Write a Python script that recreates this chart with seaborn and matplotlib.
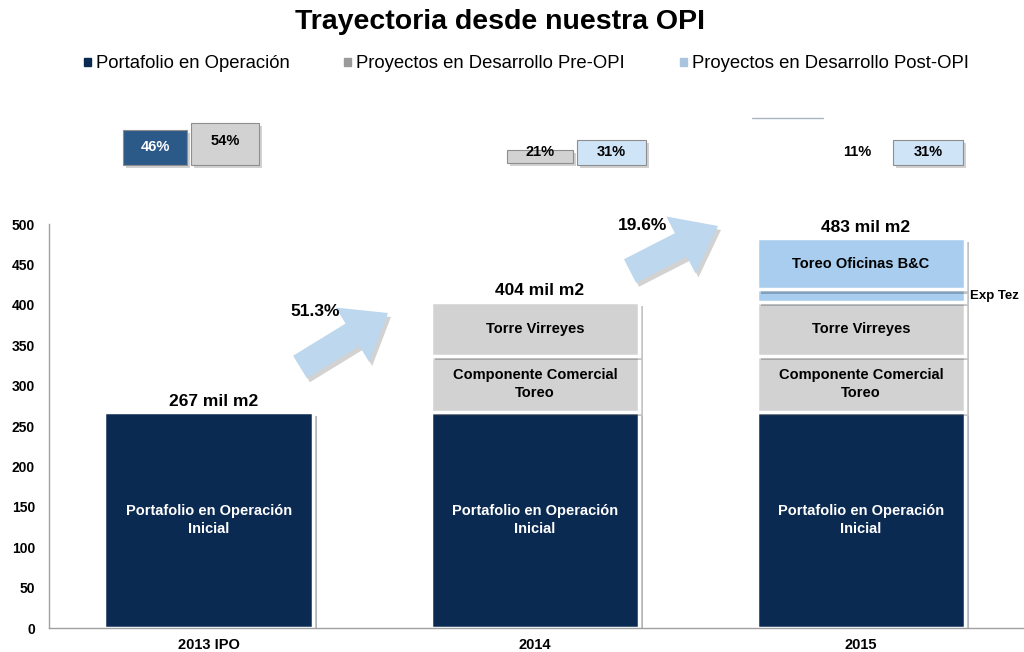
import matplotlib
matplotlib.use("Agg")
import matplotlib.pyplot as plt
import matplotlib.patheffects as pe
import seaborn as sns
import pandas as pd
from matplotlib.patches import Rectangle

# ---------------- data ----------------
years = ["2013 IPO", "2014", "2015"]
portafolio = [267, 267, 267]
componente_comercial = [0, 70, 70]
torre_virreyes = [0, 67, 67]
exp_tez = [0, 0, 15]
toreo_oficinas = [0, 0, 64]
totals = [267, 404, 483]
growth = ["51.3%", "19.6%"]
yticks = list(range(0, 501, 50))
legend_labels = ["Portafolio en Operación", "Proyectos en Desarrollo Pre-OPI",
                 "Proyectos en Desarrollo Post-OPI"]
mix_labels = [["46%", "54%"], ["21%", "31%"], ["11%", "31%"]]

# ---------------- style ----------------
sns.set_theme(style="white")
plt.rcParams["font.family"] = ["Liberation Sans", "DejaVu Sans"]

NAVY = "#0B2A52"
GRAY = "#D2D2D2"
LBLUE = "#A8CDEE"
ARROW = "#BCD7EE"
MIDBLUE = "#2C5A88"
PALEBLUE = "#CFE4F7"

fig = plt.figure(figsize=(10.24, 6.52), dpi=100)
ax = fig.add_axes([49 / 1024, 1 - 628 / 652, (1024 - 49) / 1024, (628 - 224) / 652])

layers = [
    (portafolio, NAVY, "Portafolio en Operación\nInicial", "white"),
    (componente_comercial, GRAY, "Componente Comercial\nToreo", "black"),
    (torre_virreyes, GRAY, "Torre Virreyes", "black"),
    (exp_tez, LBLUE, None, "black"),
    (toreo_oficinas, LBLUE, "Toreo Oficinas B&C", "black"),
]
bottom = [0, 0, 0]
for vals, col, lab, tc in layers:
    df = pd.DataFrame({"year": years, "v": vals})
    sns.barplot(data=df, x="year", y="v", bottom=bottom, color=col, width=0.64,
                saturation=1, edgecolor="white", linewidth=2.5, errorbar=None, ax=ax)
    for i, (b, v) in enumerate(zip(bottom, vals)):
        if v > 0 and lab:
            ax.text(i, b + v / 2, lab, ha="center", va="center", color=tc,
                    fontsize=10.5, fontweight="bold", linespacing=1.3)
    bottom = [b + v for b, v in zip(bottom, vals)]

for p in ax.patches:
    if p.get_height() <= 0:
        p.set_visible(False)
    else:
        p.set_path_effects([pe.SimplePatchShadow(offset=(3, -3), alpha=0.3), pe.Normal()])

for i, t in enumerate(totals):
    ax.text(i + 0.015, t + 4, f"{t} mil m2", ha="center", va="bottom", fontsize=12.5,
            fontweight="bold", color="black")

ax.text(2.333, 404 + 7.5, "Exp Tez", ha="left", va="center", fontsize=9.5,
        fontweight="bold", color="black")

ax.set_ylim(0, 500)
ax.set_xlim(-0.49, 2.5)
ax.set_yticks(yticks)
ax.set_yticklabels([str(t) for t in yticks], fontweight="bold", fontsize=10)
ax.set_xticks(range(len(years)))
ax.set_xticklabels(years, fontweight="bold", fontsize=10.5)
ax.set_xlabel("")
ax.set_ylabel("")
ax.tick_params(axis="y", length=0, pad=10, colors="black")
ax.tick_params(axis="x", length=0, pad=7, colors="black")
for s in ["top", "right"]:
    ax.spines[s].set_visible(False)
for s in ["left", "bottom"]:
    ax.spines[s].set_color("#A0A0A0")
    ax.spines[s].set_linewidth(1)

# ---------------- overlay (pixel coords) ----------------
ov = fig.add_axes([0, 0, 1, 1])
ov.set_xlim(0, 1024)
ov.set_ylim(652, 0)
ov.axis("off")
ov.patch.set_alpha(0)

ov.text(500, 22, "Trayectoria desde nuestra OPI", ha="center", va="center",
        fontsize=20.5, fontweight="bold", color="black")

leg_cols = [NAVY, "#9A9A9A", "#A9C4DE"]
leg_x = [84, 344, 680]
for x, c, lab in zip(leg_x, leg_cols, legend_labels):
    ov.add_patch(Rectangle((x, 58), 7, 8, color=c))
    ov.text(x + 12, 63, lab, ha="left", va="center", fontsize=13.3, color="black")

def box(x0, y0, w, h, fc, txt, tc, ty=None):
    ov.add_patch(Rectangle((x0 + 3, y0 + 3), w, h, color="#9A9A9A", alpha=0.45, lw=0))
    ov.add_patch(Rectangle((x0, y0), w, h, facecolor=fc, edgecolor="#8E8E8E", lw=0.8))
    ov.text(x0 + w / 2, y0 + h / 2 if ty is None else ty, txt, ha="center", va="center",
            fontsize=10.5, fontweight="bold", color=tc)

box(123, 130, 64, 35, MIDBLUE, mix_labels[0][0], "white", ty=147)
box(191, 123, 68, 42, GRAY, mix_labels[0][1], "black", ty=141)
box(507, 150, 66, 13, GRAY, mix_labels[1][0], "black", ty=152)
box(577, 140, 69, 25, PALEBLUE, mix_labels[1][1], "black", ty=152)
ov.text(857, 152, mix_labels[2][0], ha="center", va="center", fontsize=10.5,
        fontweight="bold", color="black")
box(893, 140, 70, 25, PALEBLUE, mix_labels[2][1], "black", ty=152)
ov.plot([752, 823], [118, 118], color="#A9B4C2", lw=1)

# growth arrows
arrows = [((300, 367), (388, 313), (315, 312), growth[0]),
          ((630, 271), (718, 226), (643, 226), growth[1])]
style = "simple,head_width=2.3,head_length=1.5,tail_width=0.95"
for tail, tip, lpos, lab in arrows:
    ov.annotate("", xy=(tip[0] + 3, tip[1] + 4), xytext=(tail[0] + 3, tail[1] + 4),
                arrowprops=dict(arrowstyle=style, mutation_scale=20, fc="#808080",
                                ec="none", alpha=0.35, shrinkA=0, shrinkB=0))
    ov.annotate("", xy=tip, xytext=tail,
                arrowprops=dict(arrowstyle=style, mutation_scale=20, fc=ARROW,
                                ec="none", shrinkA=0, shrinkB=0))
    ov.text(lpos[0], lpos[1], lab, ha="center", va="center", fontsize=12.5,
            fontweight="bold", color="black")

fig.savefig("out.png", dpi=100)
